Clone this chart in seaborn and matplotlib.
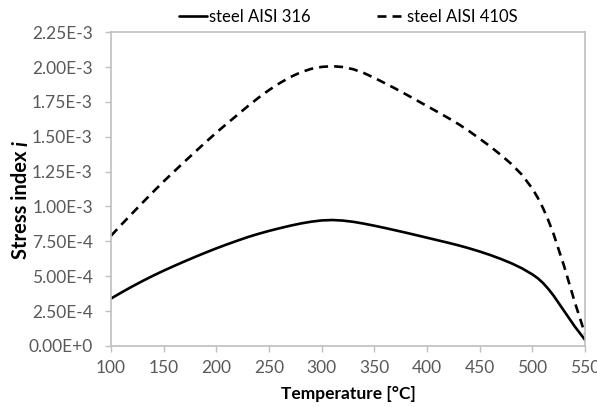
import matplotlib
matplotlib.use("Agg")
import matplotlib.pyplot as plt
import seaborn as sns
import pandas as pd

temps = [100, 110, 120, 130, 140, 150, 160, 170, 180, 190,
         200, 210, 220, 230, 240, 250, 260, 270, 280, 290,
         300, 310, 320, 330, 340, 350, 360, 370, 380, 390,
         400, 410, 420, 430, 440, 450, 460, 470, 480, 490,
         500, 505, 510, 515, 520, 530, 540, 550]
# Stress index, units of 1e-3
aisi316 = [0.340, 0.384, 0.426, 0.466, 0.504, 0.540, 0.574, 0.607, 0.639, 0.670,
           0.700, 0.728, 0.755, 0.781, 0.804, 0.825, 0.844, 0.862, 0.878, 0.891,
           0.900, 0.903, 0.899, 0.890, 0.877, 0.862, 0.846, 0.829, 0.812, 0.794,
           0.776, 0.758, 0.740, 0.721, 0.700, 0.677, 0.652, 0.624, 0.593, 0.557,
           0.513, 0.486, 0.452, 0.410, 0.362, 0.252, 0.142, 0.043]
aisi410s = [0.790, 0.871, 0.950, 1.028, 1.105, 1.180, 1.252, 1.323, 1.393, 1.462,
            1.530, 1.594, 1.657, 1.720, 1.780, 1.835, 1.884, 1.927, 1.962, 1.987,
            2.001, 2.006, 2.000, 1.984, 1.957, 1.922, 1.884, 1.845, 1.804, 1.762,
            1.720, 1.678, 1.635, 1.590, 1.540, 1.486, 1.430, 1.370, 1.305, 1.228,
            1.128, 1.064, 0.990, 0.903, 0.805, 0.575, 0.320, 0.085]
series_names = ["steel AISI 316", "steel AISI 410S"]
xticks = [100, 150, 200, 250, 300, 350, 400, 450, 500, 550]
yticks = [0, 0.25, 0.5, 0.75, 1.0, 1.25, 1.5, 1.75, 2.0, 2.25]
ytick_labels = ["0.00E+0", "2.50E-4", "5.00E-4", "7.50E-4", "1.00E-3",
                "1.25E-3", "1.50E-3", "1.75E-3", "2.00E-3", "2.25E-3"]

df = pd.concat([
    pd.DataFrame({"T": temps, "v": aisi316, "s": series_names[0]}),
    pd.DataFrame({"T": temps, "v": aisi410s, "s": series_names[1]}),
])

sns.set_theme(style="white")
plt.rcParams["font.family"] = ["Lato", "DejaVu Sans"]

fig = plt.figure(figsize=(5.97, 4.07), dpi=100)
ax = fig.add_axes([0.186, 0.150, 0.794, 0.771])

sns.lineplot(data=df, x="T", y="v", hue="s", style="s",
             palette=["black", "black"], dashes=[(None, None), (3.4, 2.3)],
             linewidth=1.9, ax=ax, legend=True)

ax.set_xlim(100, 550)
ax.set_ylim(0, 2.25)
ax.set_xticks(xticks)
ax.set_xticklabels([str(t) for t in xticks])
ax.set_yticks(yticks)
ax.set_yticklabels(ytick_labels)

gray = "#bfbfbf"
for sp in ax.spines.values():
    sp.set_color(gray)
    sp.set_linewidth(1.2)
    sp.set_visible(True)
ax.tick_params(axis="both", which="major", direction="out", length=4, width=1.0,
               color=gray, labelcolor="#595959", labelsize=12.5,
               bottom=True, left=True)
ax.tick_params(axis="x", pad=6)
ax.tick_params(axis="y", pad=9)

ax.set_xlabel("Temperature [°C]", fontsize=12.5, fontweight="bold", color="black", labelpad=7)
ax.set_ylabel("")

# y label: "Stress index " bold + italic bold "i"
fs_y = 14.5
xl = 0.036
t1 = fig.text(xl, 0.5, "Stress index", rotation=90, fontsize=fs_y, fontweight="bold",
              ha="center", va="center", color="black")
t2 = fig.text(xl, 0.5, "i", rotation=90, fontsize=fs_y, fontweight="bold", style="italic",
              ha="center", va="center", color="black")
fig.canvas.draw()
r = fig.canvas.get_renderer()
h1 = t1.get_window_extent(r).height
h2 = t2.get_window_extent(r).height
gap = 4.5
total = h1 + gap + h2
H = fig.get_figheight() * fig.dpi
cy = H - 200  # center in pixels from bottom
y1 = cy - total / 2 + h1 / 2
y2 = cy + total / 2 - h2 / 2
t1.set_y(y1 / H)
t2.set_y(y2 / H)

handles, labels = ax.get_legend_handles_labels()
leg = ax.legend(handles, labels, loc="lower center", bbox_to_anchor=(0.5, 1.0),
                ncol=2, frameon=False, fontsize=12, handlelength=1.7,
                handletextpad=0.1, columnspacing=4.0, borderaxespad=0.05)
for t in leg.get_texts():
    t.set_color("black")

fig.savefig("out.png", dpi=100, facecolor="white")
